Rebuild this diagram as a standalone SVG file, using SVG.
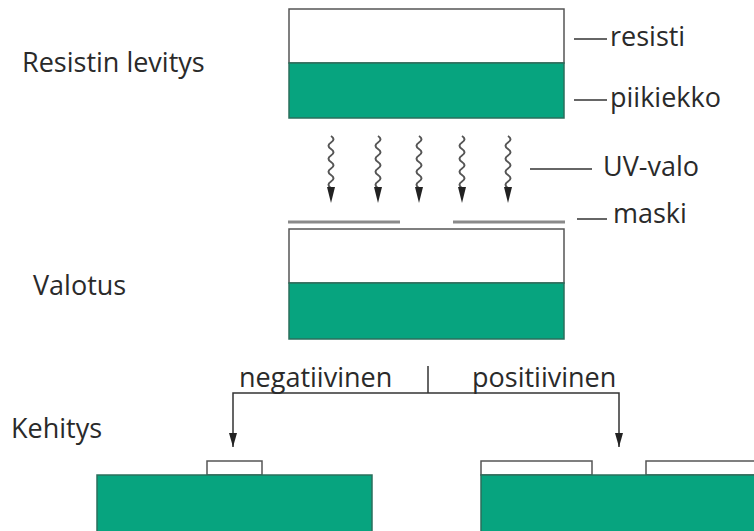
<svg xmlns="http://www.w3.org/2000/svg" xmlns:xlink="http://www.w3.org/1999/xlink" width="754" height="531" viewBox="0 0 754 531">
  <style>
    text { font-family: "Open Sans", "Noto Sans", sans-serif; font-size: 27px; fill: #2a2a2a; }
    .res { fill: #ffffff; stroke: #555; stroke-width: 1.5; }
    .si { fill: #07a47f; stroke: #2b6f5c; stroke-width: 1.5; }
    .ln { stroke: #333; stroke-width: 1.5; fill: none; }
    .mask { stroke: #8a8a8a; stroke-width: 3; }
    .wave { stroke: #555; stroke-width: 2; fill: none; }
  </style>
  <defs>
    <marker id="arr" viewBox="0 0 14 8" refX="14" refY="4" markerWidth="14" markerHeight="8" markerUnits="userSpaceOnUse" orient="auto-start-reverse">
      <path d="M0,0 L14,4 L0,8 Z" fill="#222"/>
    </marker>
    <g id="uv">
      <path class="wave" d="M0,136 q5,3.25 0,6.5 t0,6.5 t0,6.5 t0,6.5 t0,6.5 t0,6.5 t0,6.5 t0,6.5"/>
      <path d="M-4,187 L4,187 L0,203 Z" fill="#222"/>
    </g>
  </defs>

  <g id="labels-left">
    <text x="22" y="72">Resistin levitys</text>
    <text x="33" y="295">Valotus</text>
    <text x="11" y="438">Kehitys</text>
  </g>

  <g id="stack-top">
    <rect class="res" x="289" y="9" width="275" height="54"/>
    <rect class="si" x="289" y="63" width="275" height="55"/>
  </g>

  <g id="uv-light">
    <use xlink:href="#uv" x="331"/>
    <use xlink:href="#uv" x="378"/>
    <use xlink:href="#uv" x="419"/>
    <use xlink:href="#uv" x="462"/>
    <use xlink:href="#uv" x="508"/>
  </g>

  <g id="mask">
    <line class="mask" x1="288" y1="222" x2="400" y2="222"/>
    <line class="mask" x1="453" y1="222" x2="565" y2="222"/>
  </g>

  <g id="stack-exposure">
    <rect class="res" x="289" y="229" width="275" height="54"/>
    <rect class="si" x="289" y="283" width="275" height="56"/>
  </g>

  <g id="result-negative">
    <rect class="res" x="207" y="461" width="55" height="14"/>
    <rect class="si" x="97" y="475" width="275" height="62"/>
  </g>

  <g id="result-positive">
    <rect class="res" x="481" y="461" width="111" height="14"/>
    <rect class="res" x="646" y="461" width="120" height="14"/>
    <rect class="si" x="481" y="475" width="285" height="62"/>
  </g>

  <g id="connectors">
    <line class="ln" x1="574" y1="39" x2="607" y2="39"/>
    <line class="ln" x1="574" y1="100" x2="607" y2="100"/>
    <line class="ln" x1="530" y1="169" x2="592" y2="169"/>
    <line class="ln" x1="577" y1="219" x2="607" y2="219"/>
    <line class="ln" x1="428" y1="366" x2="428" y2="393"/>
    <path class="ln" d="M233,447 L233,393 L619,393 L619,447" marker-start="url(#arr)" marker-end="url(#arr)"/>
  </g>

  <g id="labels-right">
    <text x="610" y="46">resisti</text>
    <text x="610" y="107">piikiekko</text>
    <text x="603" y="176">UV-valo</text>
    <text x="613" y="223">maski</text>
    <text x="239" y="387">negatiivinen</text>
    <text x="472" y="387">positiivinen</text>
  </g>
</svg>
